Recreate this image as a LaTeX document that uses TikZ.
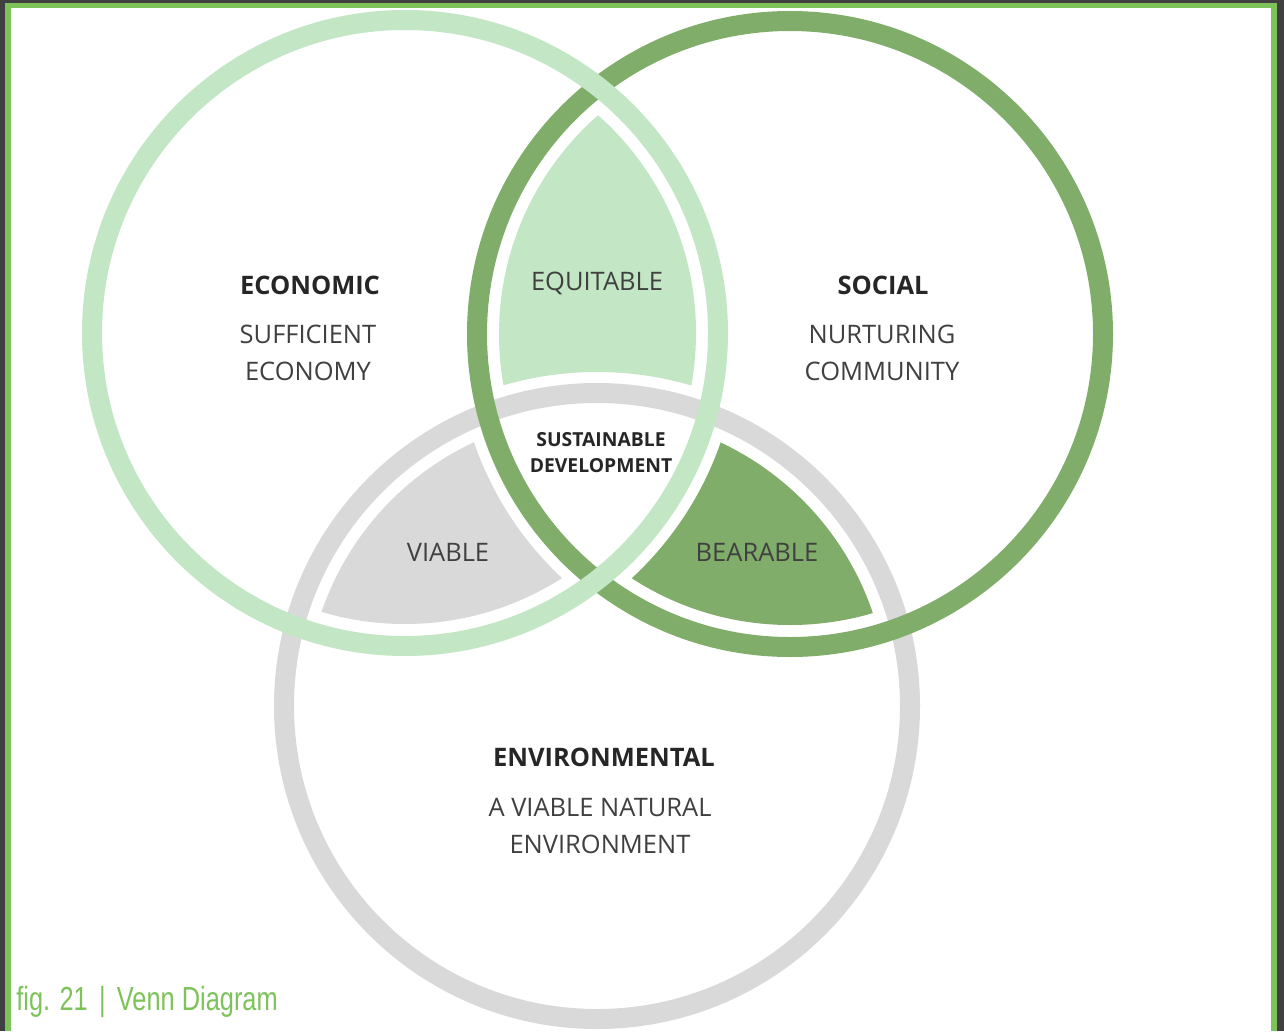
\documentclass[tikz,border=0pt]{standalone}
\usepackage{fontspec}
\setmainfont{Open Sans}
\newfontfamily\capfont{Liberation Sans}
\definecolor{framedark}{HTML}{404040}
\definecolor{framegreen}{HTML}{7DC35A}
\definecolor{econgreen}{HTML}{C3E6C5}
\definecolor{socgreen}{HTML}{80AD69}
\definecolor{envgrey}{HTML}{D9D9D9}
\definecolor{headtext}{HTML}{262626}
\definecolor{bodytext}{HTML}{404040}
\tikzset{
  ring/.style={line width=0.4cm},
  head/.style={text=headtext, font=\fontsize{14.5}{16}\bfseries\selectfont},
  body/.style={text=bodytext, font=\fontsize{14.5}{21}\selectfont, align=center},
  zone/.style={text=bodytext, font=\fontsize{14.5}{16}\selectfont},
  core/.style={text=headtext, font=\fontsize{11}{14.8}\bfseries\selectfont, align=center},
  caption/.style={text=framegreen, font=\capfont\fontsize{19}{20}\selectfont, anchor=base west, inner sep=0pt}
}
% fill the part shared by circles A and B that stays clear of circle C,
% leaving a white margin along every ring
\newcommand\gapfill[4]{% colour, circle A, circle B, excluded circle C
  \begin{scope}[even odd rule]
    \clip (#2) circle[radius=291];
    \clip (#3) circle[radius=291];
    \clip (-200,-200) rectangle (1500,1300) (#4) circle[radius=334];
    \fill[#1] (-200,-200) rectangle (1500,1300);
  \end{scope}}
\begin{document}
\begin{tikzpicture}[x=0.02cm,y=-0.02cm]
  \useasboundingbox (0,0) rectangle (1284,1031);
  % page frame
  \fill[framedark] (0,0) rectangle (1284,1031);
  \fill[framegreen] (5,3) rectangle (1277,1031);
  \fill[white] (11,8) rectangle (1271,1031);

  % circle centres
  \coordinate (econ) at (405,333);
  \coordinate (soc) at (790,334);
  \coordinate (env) at (597,706);

  % two-way overlap zones
  \gapfill{econgreen}{econ}{soc}{env}
  \gapfill{envgrey}{econ}{env}{soc}
  \gapfill{socgreen}{soc}{env}{econ}

  % rings
  \draw[ring, envgrey] (env) circle[radius=313];
  \draw[ring, socgreen] (soc) circle[radius=313];
  \draw[ring, econgreen] (econ) circle[radius=313];

  % labels
  \node[head] (econhead) at (310,285) {ECONOMIC};
  \node[body] (econbody) at (308,353) {SUFFICIENT\\ECONOMY};
  \node[head] (sochead) at (883,285) {SOCIAL};
  \node[body] (socbody) at (882,353) {NURTURING\\COMMUNITY};
  \node[head] (envhead) at (604,757) {ENVIRONMENTAL};
  \node[body] (envbody) at (600,826) {A VIABLE NATURAL\\ENVIRONMENT};
  \node[zone] (equit) at (597,283) {EQUITABLE};
  \node[zone] (viab) at (448,552) {VIABLE};
  \node[zone] (bear) at (757,552) {BEARABLE};
  \node[core] (sd) at (601,453) {SUSTAINABLE\\DEVELOPMENT};

  \node[caption] (cap) at (16,1010) {\scalebox{0.76}[1]{fig. 21 \,|\, Venn Diagram}};
\end{tikzpicture}
\end{document}
